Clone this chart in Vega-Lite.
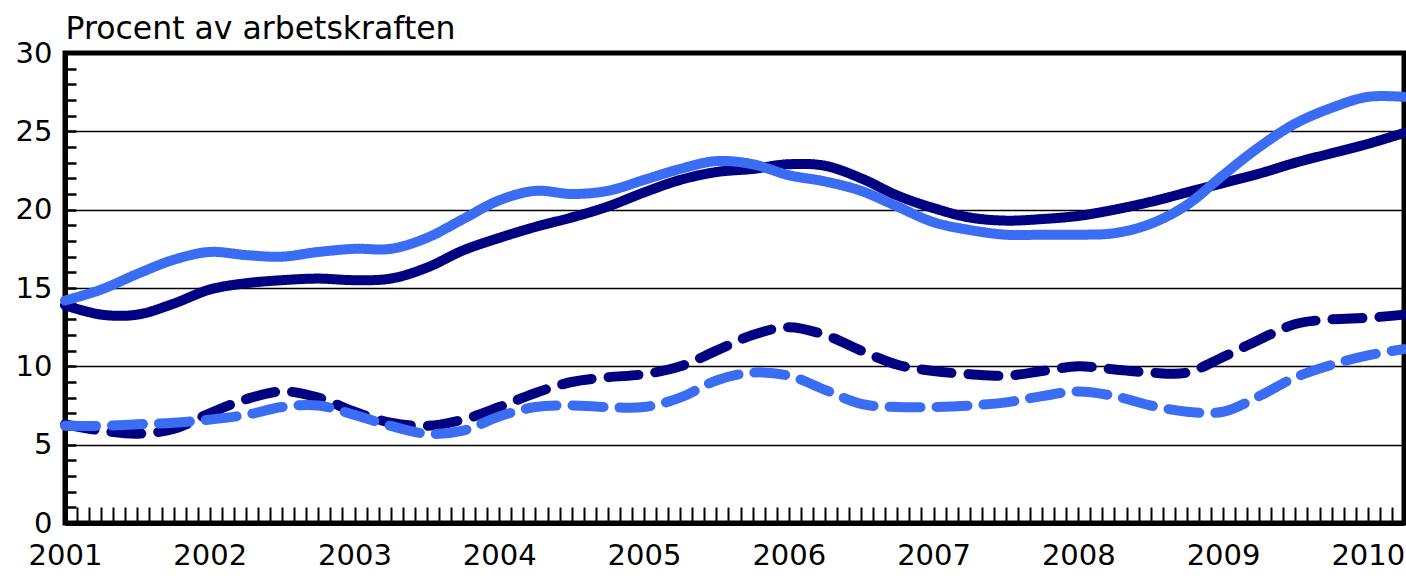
{
  "$schema": "https://vega.github.io/schema/vega-lite/v6.json",
  "width": 1339,
  "height": 470,
  "autosize": {"type": "none"},
  "padding": {"left": 65, "top": 53, "right": 2, "bottom": 62},
  "config": {
    "font": "DejaVu Sans",
    "view": {"stroke": "black", "strokeWidth": 5}
  },
  "data": {
    "values": [
      {"t": 2001, "a": 13.9, "b": 14.2, "c": 6.3, "d": 6.2},
      {"t": 2001.25, "a": 13.3, "b": 14.9, "c": 5.9, "d": 6.2},
      {"t": 2001.5, "a": 13.3, "b": 15.9, "c": 5.7, "d": 6.3},
      {"t": 2001.75, "a": 14.0, "b": 16.8, "c": 6.0, "d": 6.4},
      {"t": 2002, "a": 14.9, "b": 17.3, "c": 7.0, "d": 6.6},
      {"t": 2002.25, "a": 15.3, "b": 17.1, "c": 7.9, "d": 6.9},
      {"t": 2002.5, "a": 15.5, "b": 17.0, "c": 8.4, "d": 7.4},
      {"t": 2002.75, "a": 15.6, "b": 17.3, "c": 8.0, "d": 7.5},
      {"t": 2003, "a": 15.5, "b": 17.5, "c": 7.1, "d": 6.9},
      {"t": 2003.25, "a": 15.6, "b": 17.5, "c": 6.4, "d": 6.2},
      {"t": 2003.5, "a": 16.3, "b": 18.2, "c": 6.2, "d": 5.7},
      {"t": 2003.75, "a": 17.4, "b": 19.4, "c": 6.6, "d": 5.9},
      {"t": 2004, "a": 18.2, "b": 20.6, "c": 7.4, "d": 6.8},
      {"t": 2004.25, "a": 18.9, "b": 21.2, "c": 8.3, "d": 7.4},
      {"t": 2004.5, "a": 19.5, "b": 21.0, "c": 9.0, "d": 7.5},
      {"t": 2004.75, "a": 20.2, "b": 21.2, "c": 9.3, "d": 7.4},
      {"t": 2005, "a": 21.1, "b": 21.9, "c": 9.5, "d": 7.4},
      {"t": 2005.25, "a": 21.9, "b": 22.6, "c": 10.0, "d": 8.0},
      {"t": 2005.5, "a": 22.4, "b": 23.1, "c": 11.0, "d": 9.1},
      {"t": 2005.75, "a": 22.6, "b": 22.9, "c": 12.0, "d": 9.6},
      {"t": 2006, "a": 22.9, "b": 22.2, "c": 12.5, "d": 9.4},
      {"t": 2006.25, "a": 22.8, "b": 21.8, "c": 12.0, "d": 8.5},
      {"t": 2006.5, "a": 22.0, "b": 21.2, "c": 11.0, "d": 7.6},
      {"t": 2006.75, "a": 20.9, "b": 20.2, "c": 10.1, "d": 7.4},
      {"t": 2007, "a": 20.1, "b": 19.2, "c": 9.7, "d": 7.4},
      {"t": 2007.25, "a": 19.5, "b": 18.7, "c": 9.5, "d": 7.5},
      {"t": 2007.5, "a": 19.3, "b": 18.4, "c": 9.4, "d": 7.7},
      {"t": 2007.75, "a": 19.4, "b": 18.4, "c": 9.7, "d": 8.1},
      {"t": 2008, "a": 19.6, "b": 18.4, "c": 10.0, "d": 8.4},
      {"t": 2008.25, "a": 20.0, "b": 18.5, "c": 9.8, "d": 8.1},
      {"t": 2008.5, "a": 20.5, "b": 19.1, "c": 9.6, "d": 7.5},
      {"t": 2008.75, "a": 21.1, "b": 20.3, "c": 9.6, "d": 7.1},
      {"t": 2009, "a": 21.7, "b": 22.2, "c": 10.6, "d": 7.1},
      {"t": 2009.25, "a": 22.3, "b": 24.0, "c": 11.7, "d": 8.1},
      {"t": 2009.5, "a": 23.0, "b": 25.5, "c": 12.7, "d": 9.3},
      {"t": 2009.75, "a": 23.6, "b": 26.5, "c": 13.0, "d": 10.1},
      {"t": 2010, "a": 24.2, "b": 27.2, "c": 13.1, "d": 10.7},
      {"t": 2010.25, "a": 24.9, "b": 27.2, "c": 13.3, "d": 11.1}
    ]
  },
  "transform": [
    {"fold": ["a", "b", "c", "d"], "as": ["s", "v"]}
  ],
  "mark": {"type": "line", "strokeWidth": 10, "interpolate": "catmull-rom", "strokeCap": "round", "clip": false},
  "encoding": {
    "x": {
      "field": "t",
      "type": "quantitative",
      "scale": {"domain": [2001, 2010.25], "nice": false, "zero": false},
      "axis": {
        "title": null,
        "grid": false,
        "values": [2001, 2001.0833, 2001.1667, 2001.25, 2001.3333, 2001.4167, 2001.5, 2001.5833, 2001.6667, 2001.75, 2001.8333, 2001.9167,
                   2002, 2002.0833, 2002.1667, 2002.25, 2002.3333, 2002.4167, 2002.5, 2002.5833, 2002.6667, 2002.75, 2002.8333, 2002.9167,
                   2003, 2003.0833, 2003.1667, 2003.25, 2003.3333, 2003.4167, 2003.5, 2003.5833, 2003.6667, 2003.75, 2003.8333, 2003.9167,
                   2004, 2004.0833, 2004.1667, 2004.25, 2004.3333, 2004.4167, 2004.5, 2004.5833, 2004.6667, 2004.75, 2004.8333, 2004.9167,
                   2005, 2005.0833, 2005.1667, 2005.25, 2005.3333, 2005.4167, 2005.5, 2005.5833, 2005.6667, 2005.75, 2005.8333, 2005.9167,
                   2006, 2006.0833, 2006.1667, 2006.25, 2006.3333, 2006.4167, 2006.5, 2006.5833, 2006.6667, 2006.75, 2006.8333, 2006.9167,
                   2007, 2007.0833, 2007.1667, 2007.25, 2007.3333, 2007.4167, 2007.5, 2007.5833, 2007.6667, 2007.75, 2007.8333, 2007.9167,
                   2008, 2008.0833, 2008.1667, 2008.25, 2008.3333, 2008.4167, 2008.5, 2008.5833, 2008.6667, 2008.75, 2008.8333, 2008.9167,
                   2009, 2009.0833, 2009.1667, 2009.25, 2009.3333, 2009.4167, 2009.5, 2009.5833, 2009.6667, 2009.75, 2009.8333, 2009.9167,
                   2010, 2010.0833, 2010.1667, 2010.25],
        "labelExpr": "abs(datum.value - round(datum.value)) < 0.001 ? format(round(datum.value), 'd') : ''",
        "labelOverlap": false,
        "labelFlush": false,
        "labelBound": false,
        "labelFont": "DejaVu Sans",
        "labelFontSize": 29,
        "labelColor": "black",
        "labelPadding": 34,
        "tickSize": -16,
        "tickWidth": 2,
        "tickColor": "black",
        "domainColor": "black",
        "domainWidth": 5
      }
    },
    "y": {
      "field": "v",
      "type": "quantitative",
      "scale": {"domain": [0, 30], "nice": false},
      "axis": {
        "title": "Procent av arbetskraften",
        "titleAngle": 0,
        "titleAlign": "left",
        "titleBaseline": "alphabetic",
        "titleAnchor": null,
        "titleX": 0,
        "titleY": -15,
        "titleFont": "DejaVu Sans",
        "titleFontSize": 31.5,
        "titleFontWeight": "normal",
        "titleColor": "black",
        "values": [0, 1, 2, 3, 4, 5, 6, 7, 8, 9, 10, 11, 12, 13, 14, 15, 16, 17, 18, 19, 20, 21, 22, 23, 24, 25, 26, 27, 28, 29, 30],
        "labelExpr": "datum.value % 5 === 0 ? format(datum.value, 'd') : ''",
        "labelOverlap": false,
        "labelFlush": false,
        "labelBound": false,
        "labelFont": "DejaVu Sans",
        "labelFontSize": 29,
        "labelColor": "black",
        "labelPadding": 24,
        "tickSize": -11,
        "tickWidth": 2.5,
        "tickColor": "black",
        "domainColor": "black",
        "domainWidth": 5,
        "grid": true,
        "gridColor": "black",
        "gridWidth": 1.5,
        "gridOpacity": {"condition": {"test": "datum.value % 5 === 0 && datum.value > 0 && datum.value < 30", "value": 1}, "value": 0}
      }
    },
    "color": {
      "field": "s",
      "type": "nominal",
      "scale": {"domain": ["a", "b", "c", "d"], "range": ["#000080", "#3a6cf4", "#000080", "#3a6cf4"]},
      "legend": null
    },
    "strokeDash": {
      "field": "s",
      "type": "nominal",
      "scale": {"domain": ["a", "b", "c", "d"], "range": [[1, 0], [1, 0], [30, 17], [31, 16]]},
      "legend": null
    }
  }
}
